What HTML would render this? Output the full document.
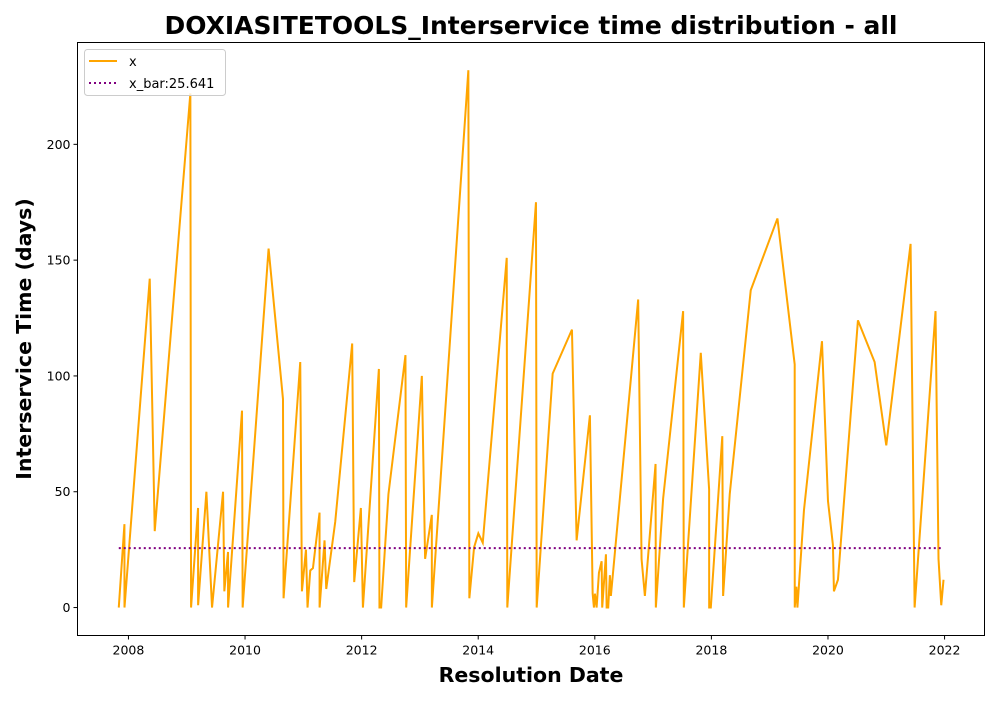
<!DOCTYPE html>
<html><head><meta charset="utf-8"><style>
body{margin:0;background:#fff;}
svg text{font-family:"DejaVu Sans","Liberation Sans",sans-serif;}
</style></head><body>
<svg id="chart" width="1000" height="700" xmlns="http://www.w3.org/2000/svg">
<rect width="1000" height="700" fill="#fff"/>
<text x="531" y="34" text-anchor="middle" font-size="24.9" font-weight="bold" textLength="733" lengthAdjust="spacingAndGlyphs">DOXIASITETOOLS_Interservice time distribution - all</text>
<g id="plot"></g>
<rect x="77.5" y="42.5" width="907" height="593" fill="none" stroke="#000" stroke-width="1"/>
<text x="531" y="682" text-anchor="middle" font-size="20.5" font-weight="bold">Resolution Date</text>
<text transform="translate(31,339) rotate(-90)" text-anchor="middle" font-size="20.5" font-weight="bold">Interservice Time (days)</text>
<g>
<rect x="84.5" y="49.5" width="141" height="46" rx="3" fill="#fff" fill-opacity="0.8" stroke="#ccc"/>
<line x1="89" y1="61" x2="117" y2="61" stroke="#ffa500" stroke-width="2"/>
<text x="129" y="66" font-size="13">x</text>
<line x1="89" y1="83" x2="117" y2="83" stroke="#800080" stroke-width="2" stroke-dasharray="2,3"/>
<text x="129" y="88" font-size="13">x_bar:25.641</text>
</g>
</svg>
<script>
const years=[2007.834,2007.931,2007.932,2008.365,2008.451,2009.062,2009.074,2009.194,2009.195,2009.337,2009.434,2009.623,2009.645,2009.708,2009.709,2009.948,2009.959,2010.404,2010.651,2010.661,2010.947,2010.976,2011.045,2011.072,2011.119,2011.165,2011.278,2011.279,2011.364,2011.393,2011.547,2011.838,2011.873,2011.987,2012.022,2012.296,2012.306,2012.335,2012.460,2012.752,2012.764,2013.033,2013.089,2013.204,2013.205,2013.831,2013.848,2013.929,2014.002,2014.078,2014.489,2014.499,2014.991,2015.003,2015.277,2015.608,2015.688,2015.916,2015.963,2015.985,2016.002,2016.031,2016.071,2016.117,2016.127,2016.191,2016.203,2016.230,2016.259,2016.276,2016.744,2016.802,2016.859,2017.042,2017.047,2017.172,2017.515,2017.527,2017.818,2017.961,2017.962,2017.990,2018.187,2018.201,2018.315,2018.675,2019.133,2019.429,2019.430,2019.458,2019.476,2019.588,2019.897,2020.000,2020.085,2020.102,2020.171,2020.514,2020.800,2021.000,2021.417,2021.486,2021.845,2021.896,2021.943,2021.982];
const values=[0,36,0,142,33,222,0,43,1,50,0,50,7,24,0,85,0,155,90,4,106,7,25,0,16,17,41,0,29,8,37,114,11,43,0,103,0,0,49,109,0,100,21,40,0,232,4,26,32,28,151,0,175,0,101,120,29,83,6,0,6,0,15,20,0,23,0,0,14,5,133,21,5,62,0,47,128,0,110,51,0,0,74,5,49,137,168,105,0,9,0,42,115,46,27,7,12,124,106,70,157,0,128,21,1,12];
const meanValue=25.641;
const yTicks=[0,50,100,150,200];
const xTicks=[2008,2010,2012,2014,2016,2018,2020,2022];
const L=77.5,R=984.5,T=42.5,B=635.5;
const x0=2007.126,x1=2022.685,y0=-12.07,y1=243.97;
const sx=v=>L+(v-x0)/(x1-x0)*(R-L);
const sy=v=>B-(v-y0)/(y1-y0)*(B-T);
const NS="http://www.w3.org/2000/svg";
const g=document.getElementById('plot');
function mk(t,a){const e=document.createElementNS(NS,t);for(const k in a)e.setAttribute(k,a[k]);g.appendChild(e);return e;}
yTicks.forEach(v=>{
  const y=sy(v);
  const tk=mk('line',{x1:L-4,x2:L,y1:y,y2:y,stroke:'#000'});
  
  
  const t=mk('text',{x:L-7,y:y+4.5,'text-anchor':'end','font-size':'12.5'});
  t.textContent=v;
  
  
});
xTicks.forEach(v=>{
  const x=sx(v);
  const tk=mk('line',{x1:x,x2:x,y1:B,y2:B+4,stroke:'#000'});
  
  
  const t=mk('text',{x:x,y:B+19,'text-anchor':'middle','font-size':'12.5'});
  t.textContent=v;
  
  
});
const pts=years.map((v,i)=>sx(v).toFixed(2)+','+sy(values[i]).toFixed(2)).join(' ');
const line=mk('polyline',{points:pts,fill:'none',stroke:'#ffa500','stroke-width':2,'stroke-linejoin':'miter'});


const mean=mk('line',{x1:sx(years[0]),x2:sx(years[years.length-1]),y1:sy(meanValue),y2:sy(meanValue),stroke:'#800080','stroke-width':2,'stroke-dasharray':'2,3'});


</script>
</body></html>
